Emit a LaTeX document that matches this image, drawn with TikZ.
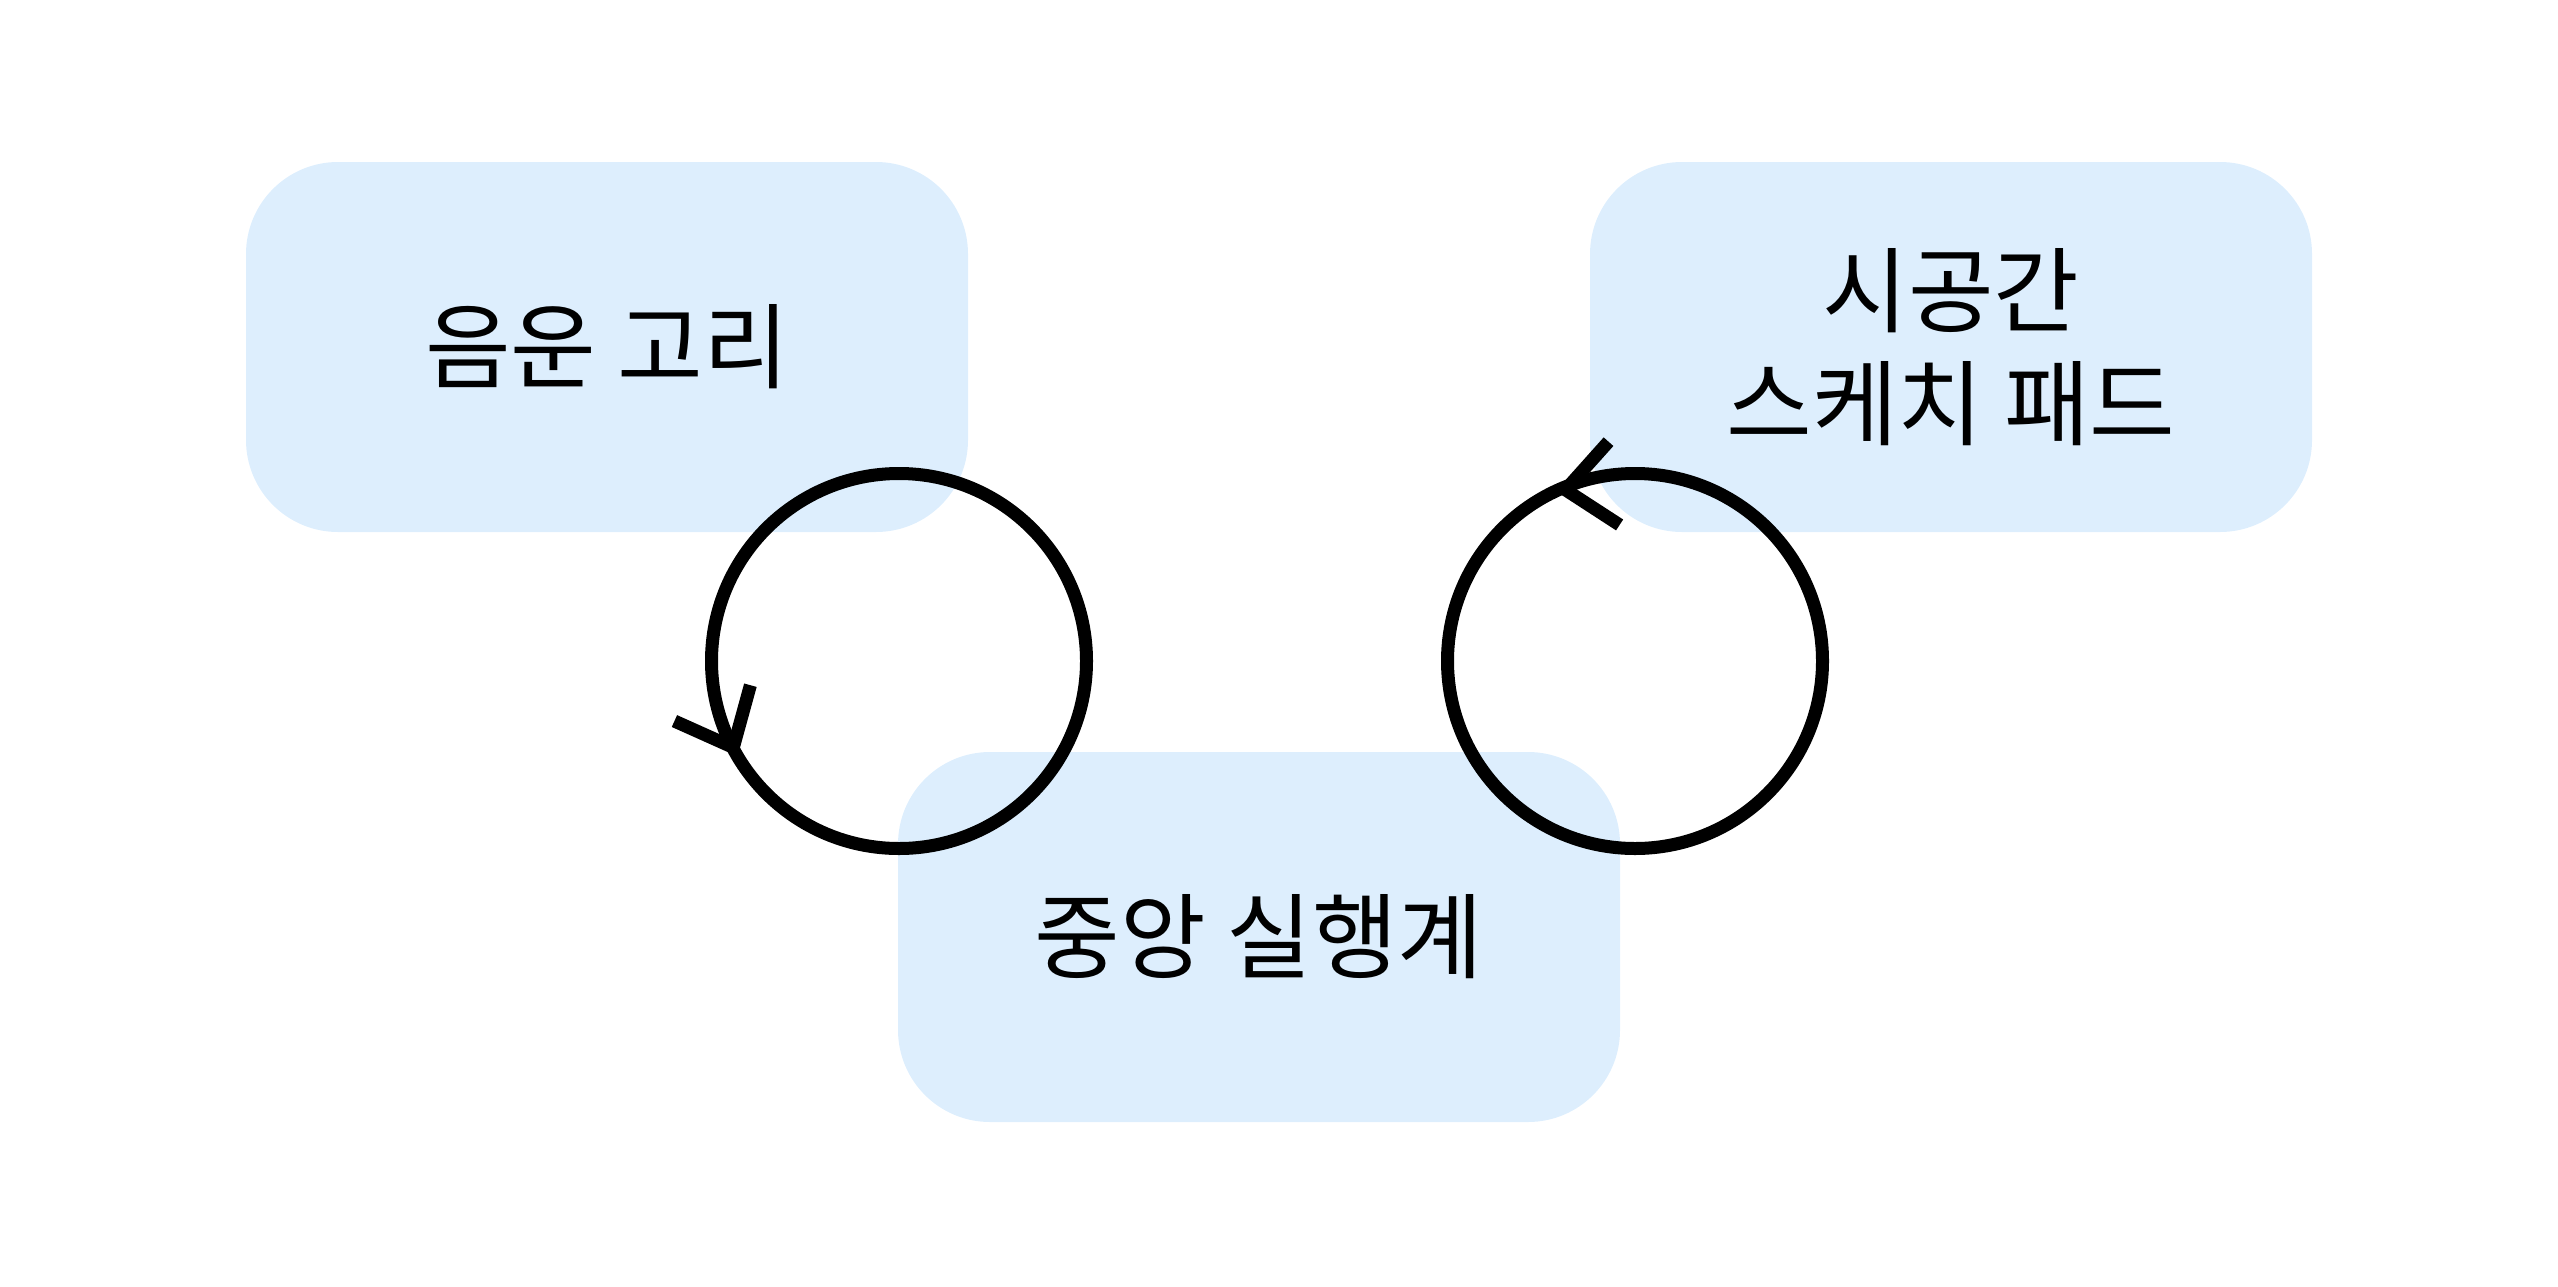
\documentclass[tikz,border=0pt]{standalone}
\usepackage{fontspec}
\setmainfont{Noto Sans CJK KR}
\usepackage{xcolor}
\usetikzlibrary{arrows.meta}
\usetikzlibrary{positioning}
\usetikzlibrary{decorations.markings}
\definecolor{boxblue}{HTML}{DDEEFD}

\begin{document}
\begin{tikzpicture}[>={Straight Barb[sharp, length=0.49cm, width=0.84cm]}, node distance=6.22cm, line width=0.13cm]
    \tikzstyle{store}=[rectangle, rounded corners=0.92cm, fill=boxblue, outer sep=0pt, minimum width=7.22cm, minimum height=3.7cm, align=center, font=\fontsize{26.5}{32}\selectfont]
    % #1 = where the tip sits on the loop, #2 = turn of the tip
    \tikzset{loopline/.style 2 args={postaction={decorate}, decoration={markings, mark=at position #1 with {\pgftransformrotate{#2}\arrow{>}}}}}
    \useasboundingbox (0,0) rectangle (25.58,12.86);

    \node[store] (phon) at (6.07,9.39) {음운 고리};
    \node[store] (visuo) [right=of phon] {시공간\\스케치 패드};
    \node[store] (exec) [below right=2.2cm and -0.7cm of phon] {중앙 실행계};

    \coordinate (loopA) at (8.99,6.25);
    \coordinate (loopB) at (16.35,6.25);

    \draw[loopline={0.585}{-5.4}] (loopA) circle[radius=1.875];
    \draw[loopline={0.3196}{-17.5}] (loopB) circle[radius=1.875];
\end{tikzpicture}
\end{document}
